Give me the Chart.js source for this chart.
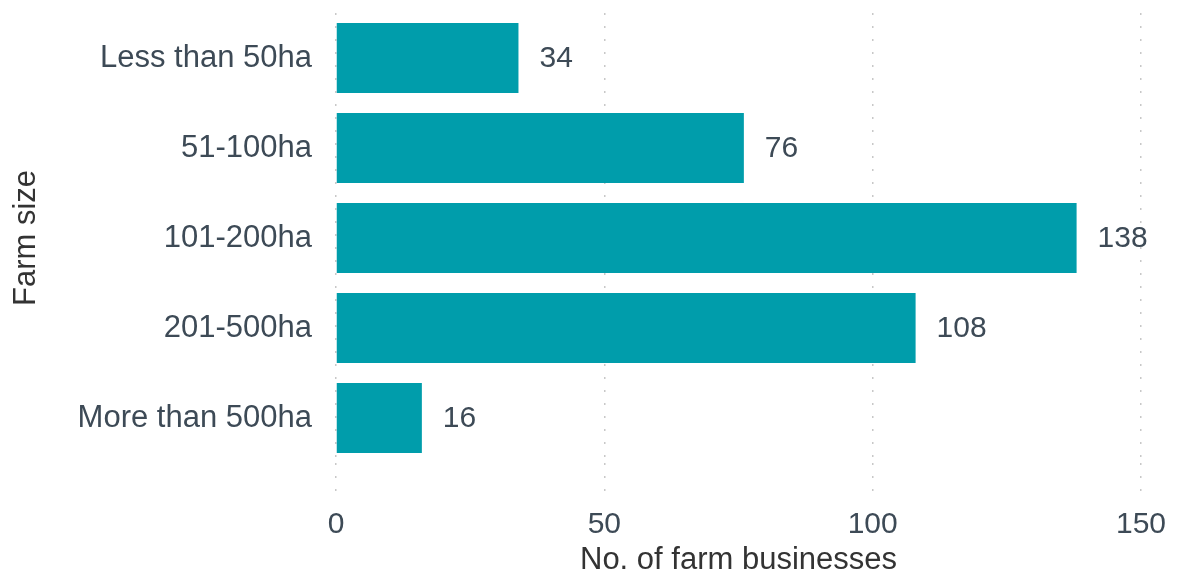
<!DOCTYPE html>
<html>
<head>
<meta charset="utf-8">
<script src="https://cdn.jsdelivr.net/npm/chart.js@4"></script>
<style>
  html, body { margin: 0; padding: 0; background: #fff; }
  #wrap { width: 1177px; height: 579px; }
</style>
</head>
<body>
<div id="wrap"><canvas id="myChart"></canvas></div>
<script>
const categories = ['Less than 50ha', '51-100ha', '101-200ha', '201-500ha', 'More than 500ha'];
const businesses = [34, 76, 138, 108, 16];
const xTicks = [0, 50, 100, 150];

const textColor = '#3d4a56';
const fontFamily = '"Liberation Sans", Arial, sans-serif';

// value labels to the right of each bar
const barLabels = {
  id: 'barLabels',
  afterDatasetsDraw(chart) {
    const c = chart.ctx;
    const meta = chart.getDatasetMeta(0);
    c.save();
    c.font = '30px ' + fontFamily;
    c.fillStyle = textColor;
    c.textAlign = 'left';
    c.textBaseline = 'middle';
    meta.data.forEach((bar, i) => {
      c.fillText(String(businesses[i]), bar.x + 21, bar.y + 1);
    });
    c.restore();
  }
};

const ctx = document.getElementById('myChart');

new Chart(ctx, {
  type: 'bar',
  data: {
    labels: categories,
    datasets: [{
      label: 'No. of farm businesses',
      data: businesses,
      backgroundColor: '#009dab',
      borderWidth: 0,
      categoryPercentage: 1,
      barPercentage: 0.78
    }]
  },
  options: {
    indexAxis: 'y',
    responsive: true,
    maintainAspectRatio: false,
    animation: false,
    layout: { padding: { top: 13, right: 36, left: 0, bottom: 0 } },
    plugins: {
      legend: { display: false },
      tooltip: { enabled: false }
    },
    scales: {
      x: {
        min: 0,
        max: 150,
        afterBuildTicks: (s) => { s.ticks = xTicks.map(v => ({ value: v })); },
        afterFit: (s) => { s.height = 116; s.paddingLeft = 0; s.paddingRight = 0; },
        grid: {
          color: '#c8c8c8',
          lineWidth: 1.5,
          drawTicks: true,
          tickLength: 32,
          tickColor: '#c8c8c8',
          tickWidth: 1.5,
          tickBorderDash: [2, 11]
        },
        border: { display: false, dash: [2, 11] },
        ticks: {
          color: textColor,
          padding: 12,
          font: { size: 30, family: fontFamily }
        },
        title: {
          display: true,
          text: 'No. of farm businesses',
          color: '#333',
          padding: { top: 2, bottom: 0 },
          font: { size: 31, family: fontFamily }
        }
      },
      y: {
        afterFit: (s) => { s.width = 336; s.paddingTop = 0; s.paddingBottom = 0; },
        grid: { display: false, drawTicks: false },
        border: { display: false },
        ticks: {
          color: textColor,
          padding: 24,
          font: { size: 31, family: fontFamily }
        },
        title: {
          display: true,
          text: 'Farm size',
          color: '#333',
          padding: { top: 8, bottom: 0 },
          font: { size: 31, family: fontFamily }
        }
      }
    }
  },
  plugins: [barLabels]
});
</script>
</body>
</html>
